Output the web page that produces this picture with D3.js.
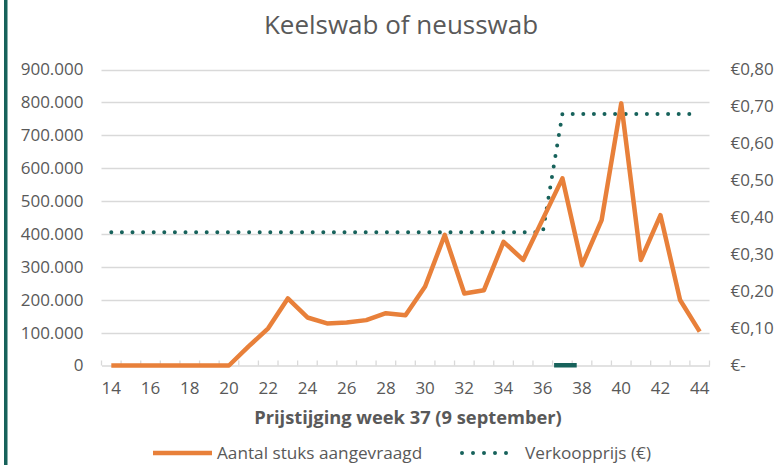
<!DOCTYPE html>
<html lang="nl">
<head>
<meta charset="UTF-8">
<script src="https://cdn.jsdelivr.net/npm/d3@7"></script>
<title>Keelswab of neusswab</title>
<style>
  body { margin: 0; background: #fff; }
  text { font-family: "Open Sans", sans-serif; fill: #595959; }
</style>
</head>
<body>
<script>
    // weken en waarden
    const weeks = d3.range(14, 45)
    const aantal = [0, 0, 0, 0, 0, 0, 0, 58000, 113000, 204000, 146000, 128000, 131000, 138000, 159000,
                    153000, 240000, 397000, 219000, 229000, 376000, 321000, 445000, 569000, 305000,
                    442000, 797000, 321000, 457000, 199000, 103000]
    const prijs = [0.36, 0.36, 0.36, 0.36, 0.36, 0.36, 0.36, 0.36, 0.36, 0.36, 0.36, 0.36, 0.36, 0.36, 0.36,
                   0.36, 0.36, 0.36, 0.36, 0.36, 0.36, 0.36, 0.36, 0.68, 0.68, 0.68, 0.68, 0.68, 0.68, 0.68, 0.68]
    const leftTicks = [0, 100000, 200000, 300000, 400000, 500000, 600000, 700000, 800000, 900000]
    const rightTicks = [0, 0.1, 0.2, 0.3, 0.4, 0.5, 0.6, 0.7, 0.8]
    const weekLabels = weeks.filter(w => w % 2 === 0)
    const stijgingWeek = 37

    const width = 779, height = 465
    const orange = "#e8803a", teal = "#17625b", grid = "#d9d9d9"

    const nl = d3.formatLocale({decimal: ",", thousands: ".", grouping: [3], currency: ["€", ""]})
    const fmtLeft = nl.format(",.0f")
    const fmtRight = d => d === 0 ? "€-" : "€" + nl.format(",.2f")(d)

    const svg = d3.select("body").append("svg").attr("width", width).attr("height", height)

    // linker rand
    svg.append("rect").attr("x", 4).attr("y", 0).attr("width", 3.5).attr("height", height).attr("fill", teal)

    const x = d3.scaleBand().domain(weeks).range([101.5, 709.5])
    const yL = d3.scaleLinear().domain([0, 900000]).range([365.5, 69.5])
    const yR = d3.scaleLinear().domain([0, 0.8]).range([365.5, 69.5])
    const cx = w => x(w) + x.bandwidth() / 2

    // titel
    svg.append("text").attr("x", 401).attr("y", 34).attr("text-anchor", "middle")
        .style("font-size", "26px").text("Keelswab of neusswab")

    // rasterlijnen
    svg.append("g").selectAll("line").data(leftTicks.slice(1)).join("line")
        .attr("x1", 101.5).attr("x2", 709.5)
        .attr("y1", d => Math.round(yL(d)) + 0.5).attr("y2", d => Math.round(yL(d)) + 0.5)
        .attr("stroke", grid).attr("stroke-width", 1.3)

    // linker as
    const axL = svg.append("g").attr("transform", "translate(101.5,0)")
        .call(d3.axisLeft(yL).tickValues(leftTicks).tickFormat(fmtLeft).tickSize(0).tickPadding(18))
    axL.select(".domain").remove()
    axL.selectAll("text").style("font-size", "17px").attr("fill", "#595959")

    // rechter as
    const axR = svg.append("g").attr("transform", "translate(709.5,0)")
        .call(d3.axisRight(yR).tickValues(rightTicks).tickFormat(fmtRight).tickSize(0).tickPadding(21))
    axR.select(".domain").remove()
    axR.selectAll("text").style("font-size", "17px").attr("fill", "#595959")

    // x-as
    const axX = svg.append("g").attr("transform", "translate(0,365.5)")
        .call(d3.axisBottom(x).tickValues(weekLabels).tickSize(0).tickPadding(16))
    axX.select(".domain").attr("stroke", grid).attr("stroke-width", 1.3)
    axX.selectAll("text").style("font-size", "17px").attr("fill", "#595959")

    svg.append("g").selectAll("line").data(weeks.concat([null])).join("line")
        .attr("x1", d => d === null ? x.range()[1] : x(d))
        .attr("x2", d => d === null ? x.range()[1] : x(d))
        .attr("y1", 365.5).attr("y2", 360.5)
        .attr("stroke", grid).attr("stroke-width", 1.3)

    // markering prijsstijging
    svg.append("rect").attr("x", x(stijgingWeek) + 1.5).attr("y", 363)
        .attr("width", x.bandwidth() + 3).attr("height", 4.5).attr("fill", teal)

    // as-titel
    svg.append("text").attr("x", 408).attr("y", 424).attr("text-anchor", "middle")
        .style("font-size", "18.3px").style("font-weight", "bold")
        .text("Prijstijging week 37 (9 september)")

    // lijnen
    const lineL = d3.line().x((d, i) => cx(weeks[i])).y(d => yL(d))
    const lineR = d3.line().x((d, i) => cx(weeks[i])).y(d => yR(d))

    svg.append("path").datum(prijs).attr("d", lineR).attr("fill", "none")
        .attr("stroke", teal).attr("stroke-width", 4).attr("stroke-linecap", "round")
        .attr("stroke-dasharray", "0 10.6")

    svg.append("path").datum(aantal).attr("d", lineL).attr("fill", "none")
        .attr("stroke", orange).attr("stroke-width", 4.5).attr("stroke-linejoin", "round")

    // legenda
    const lg = svg.append("g")
    lg.append("line").attr("x1", 153).attr("x2", 212).attr("y1", 453).attr("y2", 453)
        .attr("stroke", orange).attr("stroke-width", 4.5)
    lg.append("text").attr("x", 217).attr("y", 459).style("font-size", "17.2px").text("Aantal stuks aangevraagd")
    lg.append("line").attr("x1", 462).attr("x2", 517).attr("y1", 453).attr("y2", 453)
        .attr("stroke", teal).attr("stroke-width", 4).attr("stroke-linecap", "round")
        .attr("stroke-dasharray", "0 11")
    lg.append("text").attr("x", 525).attr("y", 459).style("font-size", "17.2px").text("Verkoopprijs (€)")
</script>
</body>
</html>
